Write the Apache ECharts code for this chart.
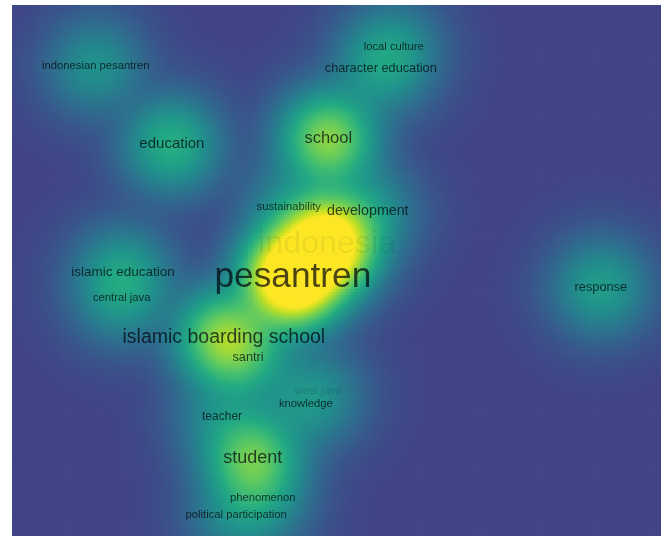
<!DOCTYPE html>
<html>
<head>
<meta charset="utf-8">
<script src="https://cdn.jsdelivr.net/npm/echarts@6/dist/echarts.min.js"></script>
<style>
  html, body { margin: 0; padding: 0; background: #fff; }
  #main { width: 668px; height: 537px; }
</style>
</head>
<body>
<div id="main"></div>
<script>
// keyword map (density view), coordinates in map units
var keywords = ['pesantren', 'indonesia', 'development', 'sustainability', 'school',
  'character education', 'local culture', 'indonesian pesantren', 'education',
  'islamic education', 'central java', 'islamic boarding school', 'santri',
  'west java', 'knowledge', 'teacher', 'student', 'phenomenon',
  'political participation', 'response'];
var xs = [4.76, 5.34, 6.03, 4.69, 5.36, 6.25, 6.47, 1.42, 2.71, 1.88, 1.86, 3.59, 4.00,
  5.19, 4.98, 3.56, 4.08, 4.25, 3.80, 9.98];
var ys = [4.39, 4.95, 5.51, 5.58, 6.73, 7.93, 8.29, 7.97, 6.64, 4.47, 4.03, 3.37, 3.03,
  2.46, 2.24, 2.02, 1.32, 0.64, 0.36, 4.22];
// occurrences -> label size
var occurrences = [35, 31, 7, 3, 10, 5, 3, 3, 8, 6, 3, 14, 5, 3, 3, 4, 12, 3, 3, 5];
// link strength -> density
var linkStrength = [35, 30, 3, 2, 12, 3, 2.5, 2.8, 5.5, 3.5, 2.5, 12, 4, 1.5, 2, 2.2,
  9.8, 2.5, 2, 3.8];

var xMax = 11, yMax = 9;
var step = 0.05, sigma = 0.45, dSat = 20;
var nx = Math.round(xMax / step), ny = Math.round(yMax / step);

// kernel density, shown on a square-root scale
var cells = [];
for (var i = 0; i < nx; i++) {
  var cx = (i + 0.5) * step;
  for (var j = 0; j < ny; j++) {
    var cy = (j + 0.5) * step;
    var d = 0;
    for (var k = 0; k < keywords.length; k++) {
      var dx = cx - xs[k], dy = cy - ys[k];
      d += linkStrength[k] * Math.exp(-(dx * dx + dy * dy) / (2 * sigma * sigma));
    }
    cells.push([cx, cy, Math.sqrt(d)]);
  }
}

var faint = { 'indonesia': 0.08, 'west java': 0.2 };
var labels = keywords.map(function (name, k) {
  var a = faint[name] != null ? faint[name] : 0.88;
  return {
    name: name,
    value: [xs[k], ys[k]],
    label: {
      fontSize: 9 + 0.75 * occurrences[k],
      color: 'rgba(0,0,10,' + a + ')'
    }
  };
});

var myChart = echarts.init(document.getElementById('main'));
var option = {
  animation: false,
  grid: { left: 12, top: 5, width: 649, height: 531, show: false },
  xAxis: { type: 'value', min: 0, max: xMax, show: false },
  yAxis: { type: 'value', min: 0, max: yMax, show: false },
  visualMap: {
    show: false,
    seriesIndex: 0,
    dimension: 2,
    min: 0,
    max: Math.sqrt(dSat),
    inRange: {
      color: ['#414487', '#355f8d', '#2a788e', '#21918c', '#22a884',
        '#44bf70', '#7ad151', '#bddf26', '#fde725']
    }
  },
  series: [{
    type: 'custom',
    data: cells,
    progressive: 0,
    silent: true,
    renderItem: function (params, api) {
      var p = api.coord([api.value(0), api.value(1)]);
      var s = api.size([step, step]);
      return {
        type: 'rect',
        shape: { x: p[0] - s[0] / 2, y: p[1] - s[1] / 2, width: s[0] + 0.8, height: s[1] + 0.8 },
        style: { fill: api.visual('color') }
      };
    },
    clip: true
  }, {
    type: 'scatter',
    symbolSize: 0,
    data: labels,
    label: {
      show: true,
      position: 'inside',
      formatter: '{b}',
      fontFamily: 'Liberation Sans, Arial, sans-serif'
    },
    z: 5
  }]
};
myChart.setOption(option);
</script>
</body>
</html>
